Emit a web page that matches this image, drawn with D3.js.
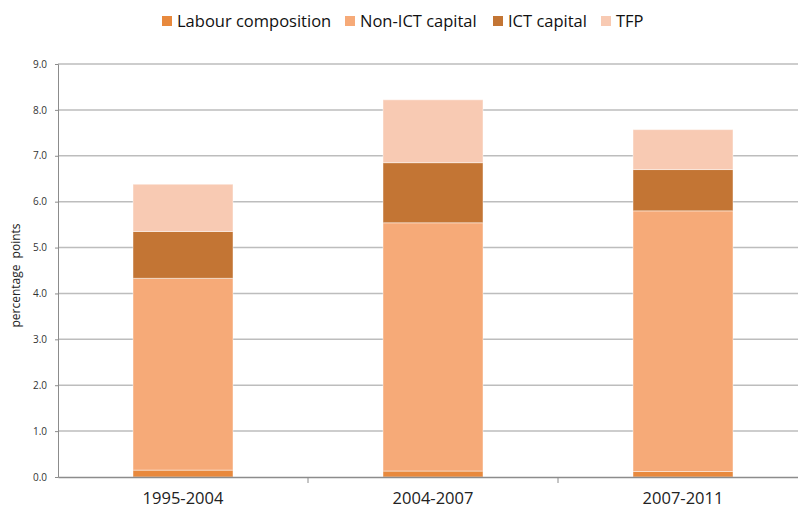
<!DOCTYPE html>
<html><head><meta charset="utf-8">
<script src="https://cdn.jsdelivr.net/npm/d3@7"></script>
<style>body{margin:0;background:#fff}svg{display:block}</style>
</head><body><svg id="c" width="798" height="508"></svg>
<script>
const categories = ["1995-2004", "2004-2007", "2007-2011"];
const seriesNames = ["Labour composition", "Non-ICT capital", "ICT capital", "TFP"];
const labour = [0.15, 0.13, 0.12];
const nonICT = [4.18, 5.41, 5.68];
const ict = [1.02, 1.31, 0.90];
const tfp = [1.03, 1.37, 0.87];
const yTicks = [0, 1, 2, 3, 4, 5, 6, 7, 8, 9];
const colors = ["#E8893D", "#F6AA78", "#C37534", "#F8CAB3"];

const svg = d3.select("#c");
const m = {l: 58, r: -10, t: 64, b: 31};
const W = 798, H = 508;
const x = d3.scaleBand().domain(categories).range([m.l, W - m.r]).paddingInner(0).paddingOuter(0);
const y = d3.scaleLinear().domain([0, 9]).range([H - m.b, m.t]);

// gridlines
svg.append("g").selectAll("line").data(yTicks.filter(d => d > 0)).join("line")
  .attr("x1", m.l).attr("x2", W).attr("y1", d => y(d)).attr("y2", d => y(d))
  .attr("stroke", "#bdbdbd").attr("stroke-width", 1.5);

// stacked data
const rows = categories.map((c, i) => ({cat: c, "Labour composition": labour[i], "Non-ICT capital": nonICT[i], "ICT capital": ict[i], "TFP": tfp[i]}));
const stack = d3.stack().keys(seriesNames)(rows);
const bw = 100;
svg.append("g").selectAll("g").data(stack).join("g")
  .attr("fill", (d, i) => colors[i])
  .selectAll("rect").data(d => d).join("rect")
  .attr("x", d => x(d.data.cat) + x.bandwidth() / 2 - bw / 2)
  .attr("width", bw)
  .attr("y", d => y(d[1]))
  .attr("height", d => y(d[0]) - y(d[1]))
  .attr("stroke", "rgba(255,255,255,0.45)").attr("stroke-width", 1);

// y axis
const ya = svg.append("g").attr("transform", `translate(${m.l},0)`)
  .call(d3.axisLeft(y).tickValues(yTicks).tickFormat(d3.format(".1f")).tickSize(3).tickPadding(8));
ya.select(".domain").attr("stroke", "#8c8c8c");
ya.selectAll(".tick line").attr("stroke", "#8c8c8c");
ya.selectAll("text").attr("font-family", "Open Sans, sans-serif").attr("font-size", 10).attr("fill", "#333");

// x axis
const xa = svg.append("g").attr("transform", `translate(0,${y(0)})`)
  .call(d3.axisBottom(x).tickSize(0).tickPadding(15));
xa.select(".domain").attr("stroke", "#8c8c8c").attr("stroke-width", 1.3);
xa.selectAll("text").attr("font-family", "Open Sans, sans-serif").attr("font-size", 16.5).attr("fill", "#222");
// boundary ticks
svg.append("g").selectAll("line").data(categories.slice(1)).join("line")
  .attr("x1", d => x(d)).attr("x2", d => x(d)).attr("y1", y(0)).attr("y2", y(0) + 6)
  .attr("stroke", "#8c8c8c");

// y label
svg.append("text").attr("transform", `translate(20,${(y(0) + y(9)) / 2 + 5}) rotate(-90)`)
  .attr("text-anchor", "middle").attr("font-family", "Open Sans, sans-serif").attr("font-size", 12).attr("fill", "#222")
  .attr("word-spacing", 3)
  .text("percentage points");

// legend
const legX = [162, 345, 493, 601];
const lg = svg.append("g");
seriesNames.forEach((s, i) => {
  lg.append("rect").attr("x", legX[i]).attr("y", 16).attr("width", 10).attr("height", 10).attr("fill", colors[i]);
  lg.append("text").attr("x", legX[i] + 15).attr("y", 27).attr("font-family", "Open Sans, sans-serif")
    .attr("font-size", 16.5).attr("fill", "#111").text(s);
});
</script></body></html>
